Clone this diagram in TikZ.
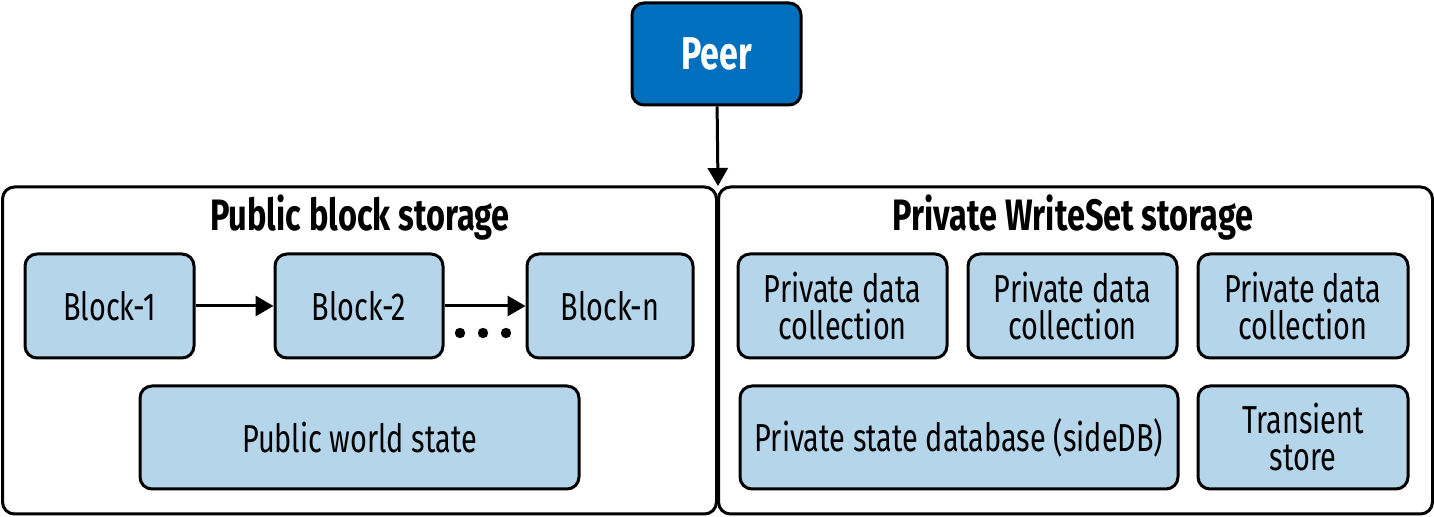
\documentclass[tikz,border=0pt]{standalone}
\usepackage{fontspec}
\setmainfont[FakeStretch=0.74]{Fira Sans}
\usetikzlibrary{positioning,arrows.meta}
\definecolor{peerblue}{RGB}{0,112,190}
\definecolor{boxblue}{RGB}{180,213,234}

\begin{document}
\begin{tikzpicture}[x=0.5pt,y=-0.5pt]
  % Settings
  \tikzset{
    peer/.style={draw, line width=1.5pt, rounded corners=6pt, fill=peerblue, text=white, minimum width=84.5pt, minimum height=51pt, font=\fontsize{23}{26}\selectfont\bfseries},
    store/.style={draw, line width=1.5pt, rounded corners=6pt, minimum width=357pt, minimum height=163.5pt},
    title/.style={font=\fontsize{22}{24}\selectfont\bfseries},
    item/.style={draw, line width=1.5pt, rounded corners=6pt, fill=boxblue, minimum height=52pt, align=center, font=\fontsize{19.5}{18.5}\selectfont},
    link/.style={line width=1.5pt, -{Triangle[length=9pt, width=10pt]}},
  }
  \useasboundingbox (0,0) rectangle (1434,517);
  % Peer
  \node[peer] (peer) at (716.5,54) {Peer};
  % Storages
  \node[store] (pub) at (359.5,350.5) {};
  \node[store] (priv) at (1075.5,350.5) {};
  \coordinate (join) at (718,186);
  \draw[link] (peer) -- (join);
  \node[title] (pubtitle) at (360,218) {Public block storage};
  \node[title] (privtitle) at (1073,218) {Private WriteSet storage};
  % Public block storage
  \node[item, minimum width=84.5pt] (block1) at (109.5,306) {Block-1};
  \node[item, minimum width=84pt] (block2) at (359,306) {Block-2};
  \node[item, minimum width=83pt] (blockn) at (610,306) {Block-n};
  \node[item, minimum width=219.5pt, minimum height=51.5pt] (pubws) at (359.5,437.5) {Public world state};
  \draw[link] (block1) -- (block2);
  \draw[link] (block2) -- (blockn);
  \foreach \x in {460,483,506} {\fill (\x,333) circle (2.6pt);}
  % Private WriteSet storage
  \node[item, minimum width=104.5pt] (pdc1) at (842.5,306) {Private data\\collection};
  \node[item, minimum width=104.5pt] (pdc2) at (1072.5,306) {Private data\\collection};
  \node[item, minimum width=105pt] (pdc3) at (1303,306) {Private data\\collection};
  \node[item, minimum width=219pt, minimum height=51.5pt] (sidedb) at (959,437.5) {Private state database (sideDB)};
  \node[item, minimum width=105pt, minimum height=51.5pt] (transient) at (1303,437.5) {Transient\\store};
\end{tikzpicture}
\end{document}
